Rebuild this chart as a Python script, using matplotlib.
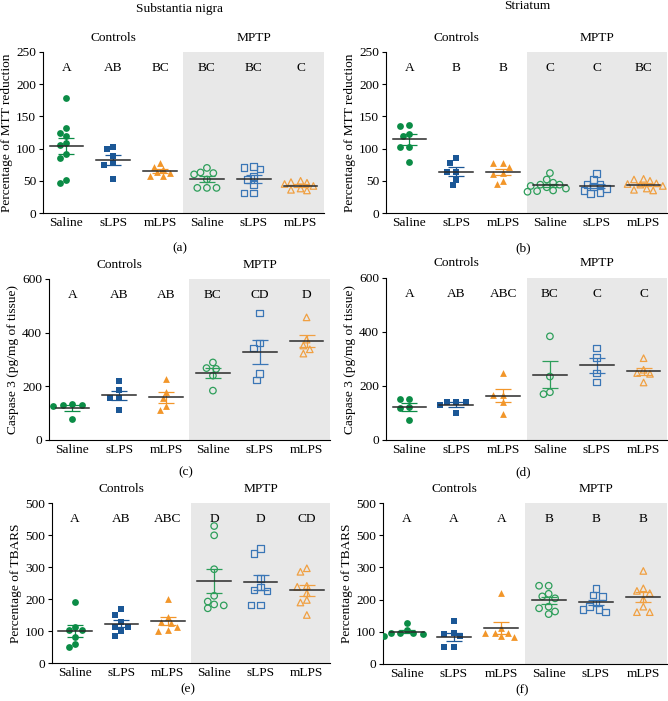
import numpy as np
import matplotlib
matplotlib.use("Agg")
import matplotlib.pyplot as plt
import matplotlib.transforms as mtransforms

plt.rcParams['font.family'] = ['Liberation Serif', 'DejaVu Serif']

groups = ['Saline', 'sLPS', 'mLPS', 'Saline', 'sLPS', 'mLPS']

# values, one list per group (controls x3, MPTP x3)
mtt_sn = [
    [178, 132, 119, 124, 108, 105, 91, 86, 47, 51],
    [99, 103, 89, 77, 75, 53],
    [57, 63, 77, 57, 68, 72, 62],
    [60, 70, 62, 63, 39, 39, 39, 52],
    [71, 72, 68, 57, 52, 31, 31, 44],
    [47, 50, 45, 38, 36, 35, 48, 42],
]
mtt_st = [
    [137, 135, 123, 119, 103, 103, 79],
    [78, 86, 63, 64, 52, 43],
    [77, 78, 71, 62, 61, 45, 49],
    [62, 52, 47, 44, 44, 40, 38, 35, 34, 33, 42],
    [61, 52, 45, 40, 38, 35, 32, 30, 44],
    [52, 53, 50, 45, 44, 42, 38, 36, 35, 46],
]
casp_sn = [
    [133, 131, 131, 125, 78],
    [220, 187, 156, 156, 112],
    [228, 178, 156, 112, 125],
    [289, 265, 268, 240, 184],
    [473, 342, 361, 247, 224],
    [457, 374, 352, 322, 338],
]
casp_st = [
    [151, 151, 121, 118, 74],
    [142, 142, 130, 142, 99],
    [248, 167, 167, 141, 96],
    [384, 235, 170, 177],
    [340, 305, 248, 214],
    [303, 260, 245, 248, 213],
]
tbars_sn = [
    [192, 111, 104, 102, 81, 60, 50],
    [168, 150, 127, 114, 114, 99, 83],
    [199, 145, 128, 124, 104, 114, 100],
    [428, 399, 293, 192, 171, 183, 210, 180],
    [358, 342, 264, 238, 228, 225, 181, 181],
    [285, 296, 238, 241, 218, 197, 189, 150],
]
tbars_st = [
    [127, 92, 95, 97, 97, 106, 88],
    [132, 95, 93, 87, 52, 52],
    [220, 87, 95, 95, 95, 111, 85],
    [243, 243, 204, 210, 218, 178, 173, 155, 163],
    [235, 210, 215, 189, 178, 170, 170, 161],
    [289, 235, 227, 220, 201, 161, 161, 178],
]

letters_a = ['A', 'AB', 'BC', 'BC', 'BC', 'C']
letters_b = ['A', 'B', 'B', 'C', 'C', 'BC']
letters_c = ['A', 'AB', 'AB', 'BC', 'CD', 'D']
letters_d = ['A', 'AB', 'ABC', 'BC', 'C', 'C']
letters_e = ['A', 'AB', 'ABC', 'D', 'D', 'CD']
letters_f = ['A', 'A', 'A', 'B', 'B', 'B']

mtt_ticks = [0, 50, 100, 150, 200, 250]
casp_ticks = [0, 200, 400, 600]
tbars_ticks = [0, 100, 200, 300, 400, 500]
tbars_ticklabels = ['0', '100', '200', '300', '500', '500']

colors = ['#0b8c46', '#1b5796', '#f2962a']
open_colors = ['#2d9e5a', '#3a76b6', '#f0a042']
markers = ['o', 's', '^']
FS = 9.6

W, H = 668, 701
fig = plt.figure(figsize=(W / 100, H / 100), dpi=100)


def px_axes(x0, y0, x1, y1):
    return fig.add_axes([x0 / W, 1 - y1 / H, (x1 - x0) / W, (y1 - y0) / H])


def swarm(vals, ymax, w_px, h_px, diam=6.6, step=3.2):
    # beeswarm: each point goes to the nearest free horizontal slot
    ys = np.array(vals, float) * h_px / ymax
    cands = [0.0]
    for k in range(1, 16):
        cands += [-k * step, k * step]
    placed = []
    offs = np.zeros(len(vals))
    for i in np.argsort(-ys):
        for c in cands:
            if all((c - px) ** 2 + (ys[i] - py) ** 2 >= diam ** 2 for px, py in placed):
                break
        offs[i] = c
        placed.append((c, ys[i]))
    return offs / (w_px / 6.0)


def panel(box, data, ymax, ticks, ticklabels, ylabel, letters, tag, tag_y):
    x0, y0, x1, y1 = box
    ax = px_axes(*box)
    ax.axvspan(2.5, 5.5, color='#e8e8e8', zorder=0, lw=0)
    w_px, h_px = x1 - x0, y1 - y0
    for i, vals in enumerate(data):
        c = i % 3
        xo = swarm(vals, ymax, w_px, h_px) + i
        if i < 3:
            ax.scatter(xo, vals, s=24, marker=markers[c], color=colors[c], lw=0, zorder=3)
            ecol = colors[c]
        else:
            ax.scatter(xo, vals, s=22, marker=markers[c], facecolor='none',
                       edgecolor=open_colors[c], lw=0.9, zorder=3)
            ecol = open_colors[c]
        m = np.mean(vals)
        sem = np.std(vals, ddof=1) / np.sqrt(len(vals))
        ax.errorbar(i, m, yerr=sem, color=ecol, lw=0.9, capsize=6, capthick=0.9, zorder=4)
        ax.plot([i - 0.36, i + 0.36], [m, m], color='#2a2a2a', lw=1.1, zorder=5)
    tr = mtransforms.blended_transform_factory(ax.transData, ax.transAxes)
    for i, t in enumerate(letters):
        ax.text(i, 0.9, t, transform=tr, ha='center', va='center', fontsize=FS)
    ax.text(1, 1.09, 'Controls', transform=tr, ha='center', va='center', fontsize=FS)
    ax.text(4, 1.09, 'MPTP', transform=tr, ha='center', va='center', fontsize=FS)
    ax.set_xlim(-0.5, 5.5)
    ax.set_ylim(0, ymax)
    ax.set_yticks(ticks)
    ax.set_yticklabels(ticklabels)
    ax.set_xticks(range(6))
    ax.set_xticklabels(groups)
    ax.tick_params(axis='x', length=0, pad=3, labelsize=FS)
    ax.tick_params(axis='y', length=3, width=0.8, pad=2, labelsize=FS)
    ax.spines['top'].set_visible(False)
    ax.spines['right'].set_visible(False)
    ax.spines['left'].set_linewidth(0.8)
    ax.spines['bottom'].set_linewidth(0.8)
    ax.set_ylabel(ylabel, fontsize=FS, labelpad=2)
    fig.text((x0 + x1) / 2 / W - 0.005, 1 - tag_y / H, tag, ha='center', va='center', fontsize=FS)
    return ax


panel((43, 52, 324, 213), mtt_sn, 250, mtt_ticks, [str(t) for t in mtt_ticks],
      'Percentage of MTT reduction', letters_a, '(a)', 248)
panel((386, 52, 667, 213), mtt_st, 250, mtt_ticks, [str(t) for t in mtt_ticks],
      'Percentage of MTT reduction', letters_b, '(b)', 248)
panel((49, 279, 330, 440), casp_sn, 600, casp_ticks, [str(t) for t in casp_ticks],
      'Caspase 3 (pg/mg of tissue)', letters_c, '(c)', 472)
panel((386, 278, 667, 440), casp_st, 600, casp_ticks, [str(t) for t in casp_ticks],
      'Caspase 3 (pg/mg of tissue)', letters_d, '(d)', 472)
panel((52, 503, 330, 663), tbars_sn, 500, tbars_ticks, tbars_ticklabels,
      'Percentage of TBARS', letters_e, '(e)', 689)
panel((383, 503, 667, 664), tbars_st, 500, tbars_ticks, tbars_ticklabels,
      'Percentage of TBARS', letters_f, '(f)', 690)

fig.text(180 / W, 1 - 9 / H, 'Substantia nigra', ha='center', va='center', fontsize=FS)
fig.text(527 / W, 1 - 6 / H, 'Striatum', ha='center', va='center', fontsize=FS)

fig.savefig('out.png', dpi=100)
